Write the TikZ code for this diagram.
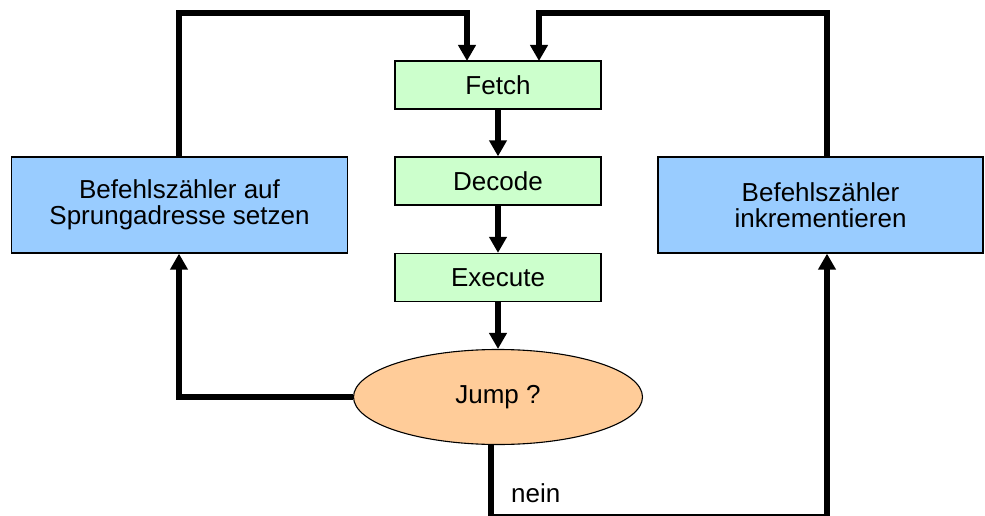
\documentclass[tikz,border=0pt]{standalone}
\usepackage{fontspec}
\setmainfont{Liberation Sans}
\usetikzlibrary{arrows.meta,shapes.geometric}

\definecolor{stepgreen}{HTML}{CCFFCC}
\definecolor{pcblue}{HTML}{99CCFF}
\definecolor{testorange}{HTML}{FFCC99}

\tikzset{
  flowbox/.style={draw=black, line width=1.3pt, minimum height=48pt,
    inner sep=0pt, align=center, font=\fontsize{26}{26.5}\selectfont},
  stagebox/.style={flowbox, fill=stepgreen, minimum width=206pt},
  pcbox/.style={flowbox, fill=pcblue, minimum height=96pt},
  decision/.style={ellipse, draw=black, line width=1.1pt, fill=testorange,
    minimum width=289pt, minimum height=95pt, inner sep=0pt,
    font=\fontsize{26}{26.5}\selectfont},
  flow/.style={line width=5.5pt, miter limit=10,
    -{Triangle[width=17pt,length=16pt]}},
}

\begin{document}
\begin{tikzpicture}[x=1pt, y=1pt]
  \useasboundingbox (0,0) rectangle (985,515);
  \clip (0,0) rectangle (985,515);

  % pipeline stages
  \node[stagebox] (fetch)   at (498,430) {Fetch};
  \node[stagebox] (decode)  at (498,334) {Decode};
  \node[stagebox] (execute) at (498,237.5) {Execute};
  \node[decision] (jump)    at (498,118) {Jump ?};

  % program counter updates
  \node[pcbox, minimum width=336pt] (lbox) at (179.5,310)
    {Befehlszähler auf\\Sprungadresse setzen};
  \node[pcbox, minimum width=325pt] (rbox) at (820.5,310)
    {Befehlszähler\\inkrementieren};

  % routing points
  \coordinate (ltop) at (179,502);
  \coordinate (rtop) at (827,502);
  \coordinate (fin1) at (467,454);
  \coordinate (fin2) at (539,454);
  \coordinate (nbot) at (491,-1.8);
  \coordinate (rbot) at (827,-1.8);

  % straight pipeline
  \draw[flow] (fetch) -- (decode);
  \draw[flow] (decode) -- (execute);
  \draw[flow] (execute) -- (jump);

  % loops back to fetch
  \draw[flow] (lbox.north -| ltop) -- (ltop) -| (fin1);
  \draw[flow] (rbox.north -| rtop) -- (rtop) -| (fin2);

  % jump taken
  \draw[flow] (jump.west) -| (lbox.south -| ltop);

  % no jump
  \draw[flow] (jump.south -| nbot) -- (nbot) -- (rbot) -- (rbox.south -| rbot);
  \node[anchor=base west, inner sep=0pt, font=\fontsize{26}{26.5}\selectfont]
    (nein) at (511,13) {nein};
\end{tikzpicture}
\end{document}
